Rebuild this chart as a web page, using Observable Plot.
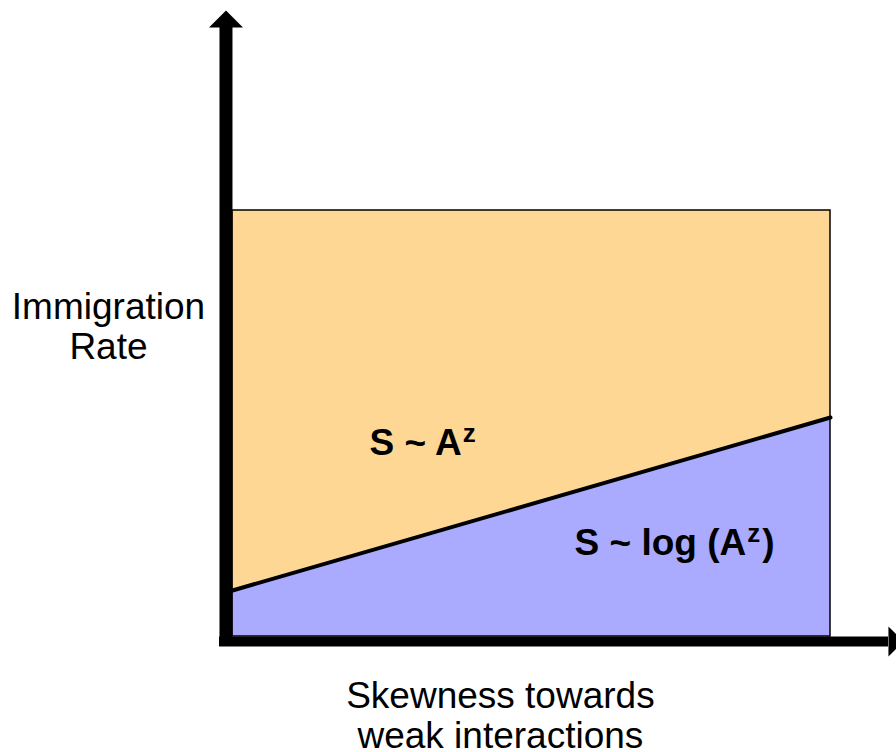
<!DOCTYPE html>
<html><head><meta charset="utf-8">
<script src="https://cdn.jsdelivr.net/npm/d3@7"></script>
<script src="https://cdn.jsdelivr.net/npm/@observablehq/plot@0.6"></script>
<style>html,body{margin:0;padding:0;background:#fff}svg{display:block}</style>
</head><body><div id="chart"></div>
<script>
// --- chart content ---
const xLabel = "Skewness towards\nweak interactions";
const yLabel = "Immigration\nRate";
const regimeLabels = ["S ~ A^z", "S ~ log (A^z)"];
const regimeLabelX = [0.229, 0.572];
const regimeLabelY = [0.453, 0.218];
const boundaryX = [0, 1];
const boundaryY = [0.108, 0.514];
const regionTop = 1;
// axis extents (data units)
const axisOrigin = {x: -0.0109, y: -0.0117};
const axisStart = {x: -0.0217, y: -0.0117};
const arrowBase = {x: 1.097, y: 1.4296};
const arrowTip = {x: 1.122, y: 1.4695};

const orange = "#FDD793";
const blue = "#AAAAFE";

const boundary = boundaryX.map((x, i) => ({x, y: boundaryY[i]}));
const region = [{x1: 0, x2: 1, y1: 0, y2: regionTop}];
const regimes = regimeLabels.map((t, i) => ({t, x: regimeLabelX[i], y: regimeLabelY[i]}));

const upHead = {draw(ctx) { ctx.moveTo(0, 0); ctx.lineTo(17, 17); ctx.lineTo(-17, 17); ctx.closePath(); }};
const rightHead = {draw(ctx) { ctx.moveTo(0, 0); ctx.lineTo(-15, -15); ctx.lineTo(-15, 15); ctx.closePath(); }};

const chart = Plot.plot({
  width: 896, height: 752,
  marginTop: 0, marginRight: 0, marginBottom: 0, marginLeft: 0,
  x: {domain: [0, 1], range: [232, 830], axis: null},
  y: {domain: [0, 1], range: [636, 210], axis: null},
  style: {fontFamily: "'Liberation Sans', Arial, sans-serif", background: "white", color: "black"},
  marks: [
    Plot.rect(region, {x1: "x1", x2: "x2", y1: "y1", y2: "y2", fill: orange}),
    Plot.areaY(boundary, {x: "x", y: "y", fill: blue}),
    Plot.rect(region, {x1: "x1", x2: "x2", y1: "y1", y2: "y2", fill: "none", stroke: "black", strokeWidth: 1.5}),
    Plot.line(boundary, {x: "x", y: "y", stroke: "black", strokeWidth: 4}),
    Plot.ruleX([axisOrigin.x], {y1: axisStart.y, y2: arrowBase.y, stroke: "black", strokeWidth: 13}),
    Plot.ruleY([axisOrigin.y], {x1: axisStart.x, x2: arrowBase.x, stroke: "black", strokeWidth: 10}),
    Plot.dot([{x: axisOrigin.x, y: arrowTip.y}], {x: "x", y: "y", symbol: upHead, fill: "black", stroke: "none"}),
    Plot.dot([{x: arrowTip.x, y: axisOrigin.y}], {x: "x", y: "y", symbol: rightHead, fill: "black", stroke: "none"}),
    Plot.text([yLabel], {x: -0.2074, y: 0.7277, text: d => d, fontSize: 37, lineHeight: 1.08, textAnchor: "middle", fill: "black"}),
    Plot.text([xLabel], {x: 0.448, y: -0.185, text: d => d, fontSize: 37, lineHeight: 1.08, textAnchor: "middle", fill: "black"}),
    Plot.text(regimes, {x: "x", y: "y", text: "t", fontSize: 37, fontWeight: "bold", textAnchor: "start", fill: "black"})
  ]
});

// render "^z" as superscript
d3.select(chart).selectAll("text").each(function() {
  const t = this.textContent;
  if (!t.includes("^")) return;
  const [base, rest] = t.split("^");
  const sel = d3.select(this);
  sel.text(null);
  sel.append("tspan").text(base);
  sel.append("tspan").attr("dx", 1).attr("dy", -13).attr("font-size", 26).text(rest[0]);
  if (rest.length > 1) sel.append("tspan").attr("dx", 2).attr("dy", 13).text(rest.slice(1));
});

document.getElementById("chart").append(chart);
</script>
</body></html>
